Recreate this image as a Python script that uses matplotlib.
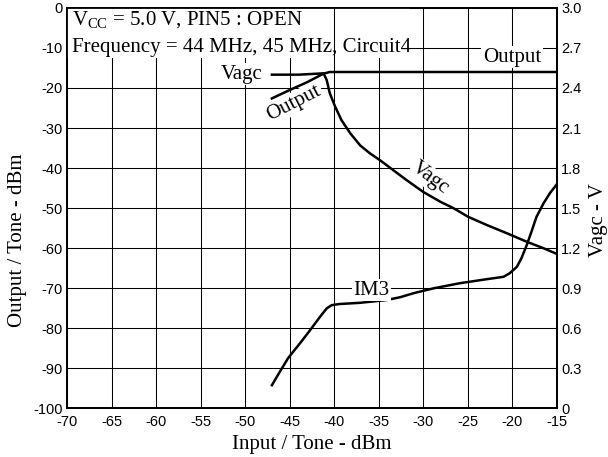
import numpy as np
import matplotlib
matplotlib.use('Agg')
import matplotlib.pyplot as plt
from matplotlib.patches import Rectangle

plt.rcParams['font.family'] = 'Liberation Sans'
plt.rcParams['axes.unicode_minus'] = False
plt.rcParams['mathtext.fontset'] = 'custom'
plt.rcParams['mathtext.rm'] = 'Liberation Serif'
plt.rcParams['mathtext.it'] = 'Liberation Serif:italic'

SERIF = 'Liberation Serif'
FS = 15

# Output (dBm) vs input (dBm)
out_x = [-47.0, -45.0, -43.0, -41.2, -40.5, -38.0, -35.0, -30.0, -25.0, -20.0, -15.0]
out_y = [-22.6, -20.5, -18.5, -16.4, -16.0, -16.0, -16.0, -16.0, -16.0, -16.0, -16.0]

# IM3 (dBm)
im3_x = [-47.0, -46.1, -45.2, -44.6, -43.7, -42.7, -41.6, -40.85, -40.3, -39.4,
         -37.1, -34.1, -32.6, -31.1, -28.9, -25.9, -22.9, -21.0, -20.3, -19.5,
         -19.0, -18.4, -17.8, -17.3, -16.5, -15.8, -15.0]
im3_y = [-94.3, -90.9, -87.6, -85.9, -83.4, -80.5, -77.2, -75.1, -74.3, -74.0,
         -73.7, -73.0, -72.3, -71.3, -70.1, -68.8, -67.8, -67.2, -66.3, -64.7,
         -62.6, -59.3, -55.5, -52.2, -48.8, -46.3, -44.0]

# Vagc (V)
vagc_x = [-47.0, -44.0, -41.2, -40.85, -40.5, -39.9, -39.2, -38.2, -37.1, -36.0,
          -34.9, -33.4, -31.9, -30.0, -28.1, -26.6, -25.0, -22.9, -20.6, -18.4,
          -16.5, -15.0]
vagc_y = [2.50, 2.50, 2.51, 2.46, 2.36, 2.26, 2.16, 2.06, 1.97, 1.91,
          1.86, 1.785, 1.71, 1.62, 1.547, 1.498, 1.435, 1.373, 1.31, 1.247,
          1.198, 1.155]

xticks = list(range(-70, -14, 5))
yticks = list(range(-100, 1, 10))
vticks = [0, 0.3, 0.6, 0.9, 1.2, 1.5, 1.8, 2.1, 2.4, 2.7, 3.0]
vlabels = ['0'] + ['%.1f' % v for v in vticks[1:]]

fig = plt.figure(figsize=(6.08, 4.57), dpi=100)
ax = fig.add_axes([0.1102, 0.1072, 0.8059, 0.8753])
ax.set_xlim(-70, -15)
ax.set_ylim(-100, 0)
ax.set_xticks(xticks)
ax.set_yticks(yticks)
ax.grid(True, color='black', linewidth=0.75)
ax.tick_params(axis='y', length=0, labelsize=10.5, pad=3)
ax.tick_params(axis='x', length=0, labelsize=10.5, pad=5)
for s in ax.spines.values():
    s.set_linewidth(1.3)

ax.plot(out_x, out_y, color='black', linewidth=1.8, zorder=5)
ax.plot(im3_x, im3_y, color='black', linewidth=1.8, zorder=5)

ax.set_xlabel('Input / Tone - dBm', family=SERIF, fontsize=FS)
ax.xaxis.set_label_coords(0.5, -0.068)
ax.set_ylabel('Output / Tone - dBm', family=SERIF, fontsize=FS)
ax.yaxis.set_label_coords(-0.082, 0.42)

# white block behind header text
ax.add_patch(Rectangle((-70, -12.5), 38.5, 12.5, facecolor='white',
                       edgecolor='none', zorder=3))
ax.plot([-40, -40], [-12.5, 0], color='black', linewidth=0.75, zorder=3.5)
ax.text(-69.45, -3.0, r'V$_{\mathrm{CC}}$ = 5.0 V, PIN5 : OPEN', family=SERIF,
        fontsize=FS, va='center', ha='left', zorder=6)
ax.text(-69.45, -9.9, 'Frequency = 44 MHz, 45 MHz, Circuit4', family=SERIF,
        fontsize=FS, va='center', ha='left', zorder=6)

box = dict(facecolor='white', edgecolor='none', pad=1.0)
ax.text(-50.4, -16.6, 'Vagc', family=SERIF, fontsize=FS, ha='center', va='center',
        bbox=box, zorder=6)
ax.text(-44.5, -23.8, 'Output', family=SERIF, fontsize=FS, ha='center', va='center',
        rotation=27, bbox=box, zorder=6)
ax.text(-20.05, -12.3, 'Output', family=SERIF, fontsize=FS, ha='center', va='center',
        bbox=box, zorder=6)
ax.text(-29.2, -42.6, 'Vagc', family=SERIF, fontsize=FS, ha='center', va='center',
        rotation=-37, bbox=box, zorder=6)
ax.text(-35.8, -70.5, 'IM3', family=SERIF, fontsize=FS, ha='center', va='center',
        bbox=box, zorder=6)

ax2 = ax.twinx()
ax2.set_ylim(0, 3.0)
ax2.set_yticks(vticks)
ax2.set_yticklabels(vlabels)
ax2.tick_params(length=0, labelsize=10.5, pad=3)
for s in ax2.spines.values():
    s.set_linewidth(1.3)
ax2.plot(vagc_x, vagc_y, color='black', linewidth=1.8, zorder=5)
ax2.set_ylabel('Vagc - V', family=SERIF, fontsize=FS)
ax2.yaxis.set_label_coords(1.065, 0.47)

fig.savefig('out.png', dpi=100)
